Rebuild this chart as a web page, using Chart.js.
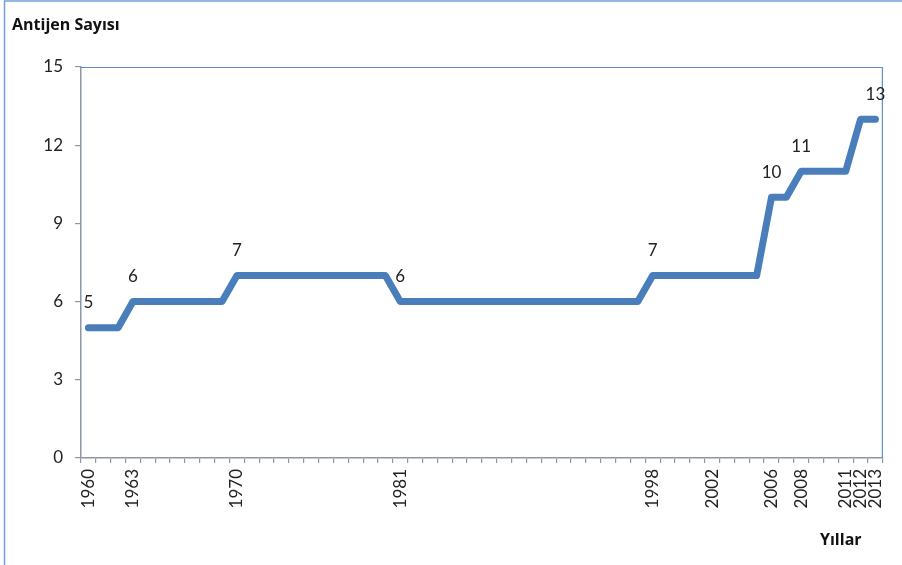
<!DOCTYPE html>
<html>
<head>
<meta charset="utf-8">
<script src="https://cdn.jsdelivr.net/npm/chart.js@4/dist/chart.umd.min.js"></script>
<style>
  html, body { margin: 0; padding: 0; background: #fff; }
  #wrap { position: relative; width: 902px; height: 565px; }
</style>
</head>
<body>
<div id="wrap"><canvas id="chart"></canvas></div>
<script>
"use strict";

const years = [
  '1960', '1961', '1962', '1963', '1964', '1965', '1966', '1967', '1968', '1969',
  '1970', '1971', '1972', '1973', '1974', '1975', '1976', '1977', '1978', '1979',
  '1980', '1981', '1982', '1983', '1984', '1985', '1986', '1987', '1988', '1989',
  '1990', '1991', '1992', '1993', '1994', '1995', '1996', '1997', '1998', '1999',
  '2000', '2001', '2002', '2003', '2004', '2005', '2006', '2007', '2008', '2009',
  '2010', '2011', '2012', '2013'
];
const antigens = [
  5, 5, 5, 6, 6, 6, 6, 6, 6, 6,
  7, 7, 7, 7, 7, 7, 7, 7, 7, 7,
  7, 6, 6, 6, 6, 6, 6, 6, 6, 6,
  6, 6, 6, 6, 6, 6, 6, 6, 7, 7,
  7, 7, 7, 7, 7, 7, 10, 10, 11, 11,
  11, 11, 13, 13
];
const shownYears = ['1960', '1963', '1970', '1981', '1998', '2002', '2006', '2008', '2011', '2012', '2013'];
const labelledYears = ['1960', '1963', '1970', '1981', '1998', '2006', '2008', '2013'];
const yTicks = [0, 3, 6, 9, 12, 15];

const FONT = 'Lato, "Open Sans", sans-serif';
const BOLD_FONT = '"Open Sans", Lato, sans-serif';

// point value labels, frame lines and the two axis captions
const decorations = {
  id: 'decorations',
  beforeDatasetsDraw(chart) {
    const ctx = chart.ctx;
    const a = chart.chartArea;
    ctx.save();
    ctx.strokeStyle = '#5b8fd0';
    ctx.lineWidth = 1.2;
    ctx.beginPath();
    ctx.moveTo(a.left, a.top + 0.5);
    ctx.lineTo(a.right - 0.5, a.top + 0.5);
    ctx.lineTo(a.right - 0.5, a.bottom);
    ctx.stroke();
    ctx.restore();
  },
  afterDraw(chart) {
    const ctx = chart.ctx;
    const meta = chart.getDatasetMeta(0);
    ctx.save();
    ctx.fillStyle = '#222';
    ctx.font = '17px ' + FONT;
    ctx.textAlign = 'center';
    ctx.textBaseline = 'middle';
    labelledYears.forEach(function(y) {
      const i = years.indexOf(y);
      const pt = meta.data[i];
      ctx.fillText(String(antigens[i]), pt.x, pt.y - 25);
    });

    ctx.fillStyle = '#111';
    ctx.font = 'bold 16px ' + BOLD_FONT;
    ctx.textAlign = 'left';
    ctx.fillText('Antijen Sayısı', 12, 25);
    ctx.fillText('Yıllar', 820, 540);

    // outer frame
    ctx.strokeStyle = '#6fa0dc';
    ctx.lineWidth = 1.5;
    ctx.beginPath();
    ctx.moveTo(4.5, chart.height);
    ctx.lineTo(4.5, 1);
    ctx.lineTo(chart.width, 1);
    ctx.stroke();
    ctx.restore();
  }
};

new Chart(document.getElementById('chart'), {
  type: 'line',
  data: {
    labels: years,
    datasets: [{
      label: 'Antijen Sayısı',
      data: antigens,
      borderColor: '#4a7ebb',
      borderWidth: 7,
      borderCapStyle: 'round',
      borderJoinStyle: 'round',
      pointRadius: 0,
      tension: 0,
      fill: false
    }]
  },
  options: {
    responsive: true,
    maintainAspectRatio: false,
    animation: false,
    layout: { padding: { left: 0, right: 18, top: 67, bottom: 0 } },
    plugins: {
      legend: { display: false },
      tooltip: { enabled: false }
    },
    scales: {
      x: {
        type: 'category',
        offset: true,
        afterFit(scale) { scale.height = 107; },
        border: { display: true, color: '#8e98a4', width: 1.5 },
        grid: {
          display: true,
          offset: true,
          drawOnChartArea: false,
          drawTicks: true,
          tickLength: 5,
          color: '#8e98a4',
          lineWidth: 1.2
        },
        ticks: {
          autoSkip: false,
          maxRotation: 90,
          minRotation: 90,
          padding: 6,
          color: '#222',
          font: { family: FONT, size: 17 },
          callback(value) {
            const y = this.getLabelForValue(value);
            return shownYears.includes(y) ? y : '';
          }
        }
      },
      y: {
        min: 0,
        max: 15,
        afterFit(scale) { scale.width = 81; },
        afterBuildTicks(scale) { scale.ticks = yTicks.map(v => ({ value: v })); },
        border: { display: true, color: '#8e98a4', width: 1.5 },
        grid: {
          display: true,
          drawOnChartArea: false,
          drawTicks: true,
          tickLength: 6,
          color: '#8e98a4',
          lineWidth: 1.2
        },
        ticks: {
          padding: 12,
          color: '#222',
          font: { family: FONT, size: 17 }
        }
      }
    }
  },
  plugins: [decorations]
});
</script>
</body>
</html>
